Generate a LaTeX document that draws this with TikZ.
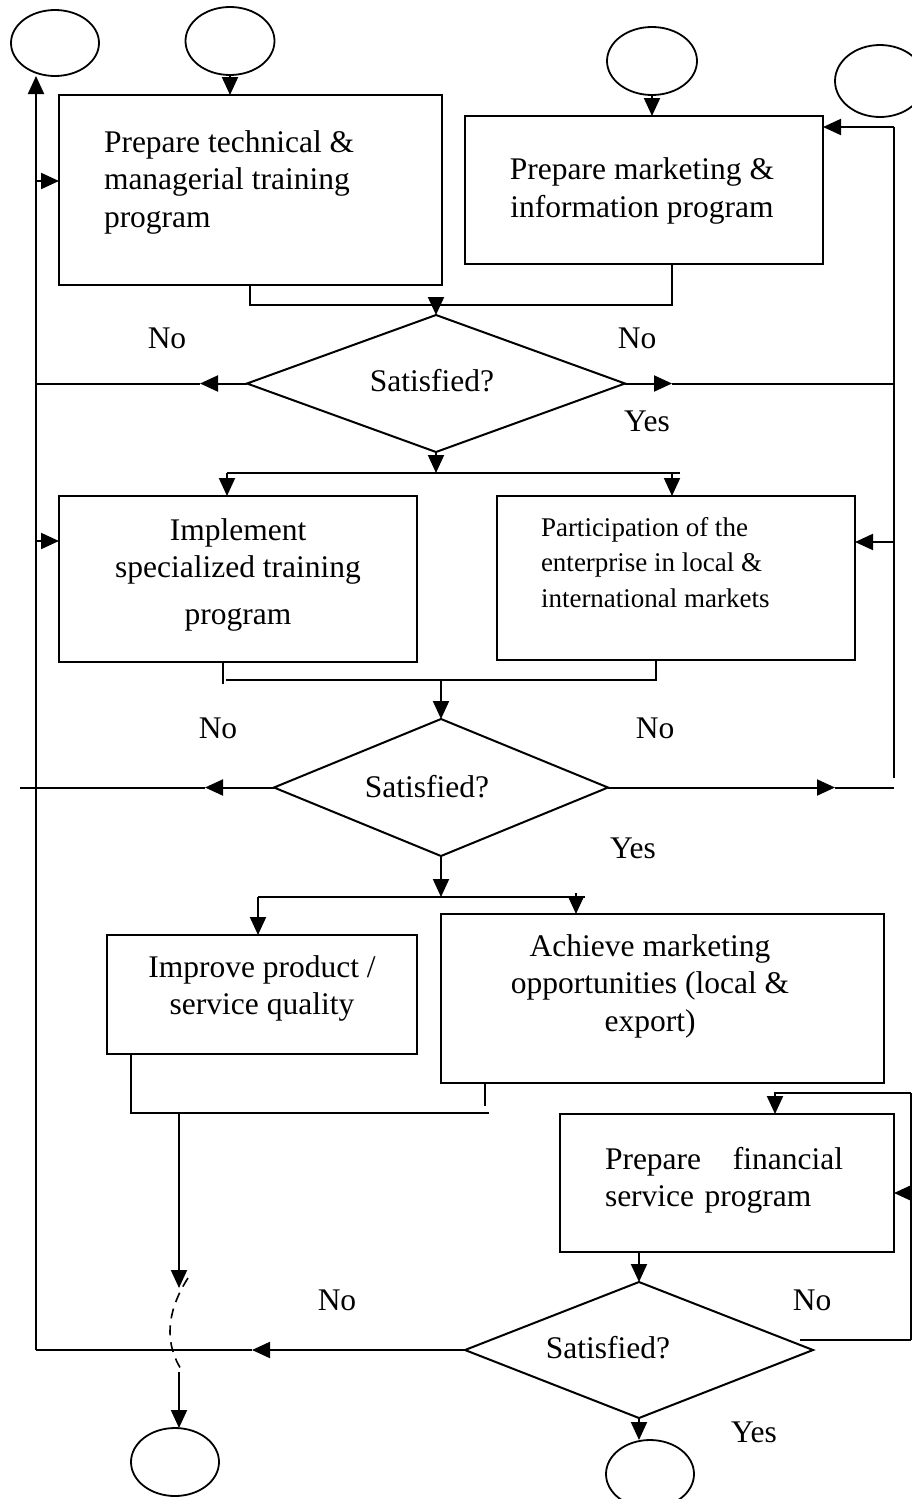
\documentclass[tikz,border=0pt]{standalone}
\usepackage{fontspec}
\setmainfont{Liberation Serif}
\usetikzlibrary{shapes.geometric,arrows.meta}
\begin{document}
\begin{tikzpicture}[x=1pt,y=-1pt,
  every node/.style={inner sep=0pt,outer sep=0pt},
  line/.style={line width=2pt},
  arr/.style={line width=2pt,-{Triangle[length=18pt,width=16pt]}},
  box/.style={draw,line width=2pt,rectangle},
  term/.style={draw,line width=1.8pt,ellipse},
  test/.style={draw,line width=2pt,diamond},
  txt/.style={font=\fontsize{31.5}{37.5}\selectfont},
  small/.style={font=\fontsize{27}{35.5}\selectfont}]
\useasboundingbox (0,0) rectangle (912,1499);

% terminals
\node[term,minimum width=88pt,minimum height=66pt] (c1) at (55,43) {};
\node[term,minimum width=89pt,minimum height=68pt] (c2) at (230,41) {};
\node[term,minimum width=90pt,minimum height=68pt] (c3) at (652,61) {};
\node[term,minimum width=90pt,minimum height=72pt] (c4) at (880,81) {};
\node[term,minimum width=88pt,minimum height=68pt] (c5) at (175,1462) {};
\node[term,minimum width=88pt,minimum height=68pt] (c6) at (650,1474) {};

% process boxes
\node[box,minimum width=383pt,minimum height=190pt] (b1) at (250.5,190) {};
\node[box,minimum width=358pt,minimum height=148pt] (b2) at (644,190) {};
\node[box,minimum width=358pt,minimum height=166pt] (b3) at (238,579) {};
\node[box,minimum width=358pt,minimum height=164pt] (b4) at (676,578) {};
\node[box,minimum width=310pt,minimum height=119pt] (b5) at (262,994.5) {};
\node[box,minimum width=443pt,minimum height=169pt] (b6) at (662.5,998.5) {};
\node[box,minimum width=334pt,minimum height=138pt] (b7) at (727,1183) {};

% box texts
\node[txt,anchor=west,align=left] (t1) at (104,182) {Prepare technical \&\\managerial training\\program};
\node[txt,align=center] (t2) at (642,191) {Prepare marketing \&\\information program};
\node[txt,align=center] (t3) at (238,574.5) {Implement\\specialized training\\[9pt]program};
\node[small,anchor=west,align=left] (t4) at (541,562.5) {Participation of the\\enterprise in local \&\\international markets};
\node[txt,align=center] (t5) at (262,988.5) {Improve product /\\service quality};
\node[txt,align=center] (t6) at (650,986) {Achieve marketing\\opportunities (local \&\\export)};
\node[txt,anchor=west,text width=238pt,align=left] (t7) at (605,1180.5) {Prepare\hfill financial\\service program};

% decisions
\node[test,minimum width=378pt,minimum height=137pt] (d1) at (436,383.5) {};
\node[test,minimum width=334pt,minimum height=137pt] (d2) at (441,787.5) {};
\node[test,minimum width=348pt,minimum height=136pt] (d3) at (639,1350) {};
\node[txt] (s1) at (432,381) {Satisfied?};
\node[txt] (s2) at (427,787) {Satisfied?};
\node[txt] (s3) at (608,1348) {Satisfied?};

% branch labels
\node[txt] (n1) at (167,338) {No};
\node[txt] (n2) at (637,338) {No};
\node[txt] (y1) at (647,421) {Yes};
\node[txt] (n3) at (218,728) {No};
\node[txt] (n4) at (655,728) {No};
\node[txt] (y2) at (633,848) {Yes};
\node[txt] (n5) at (337,1300) {No};
\node[txt] (n6) at (812,1300) {No};
\node[txt] (y3) at (754,1432) {Yes};

% return buses
\coordinate (lb) at (36,1350);
\coordinate (l1) at (36,181);
\coordinate (l2) at (36,541);
\coordinate (rb1) at (894,127);
\coordinate (rb2) at (894,778);
\coordinate (rb3) at (894,542);
\coordinate (rc1) at (911,1340);
\coordinate (rc2) at (911,1093);
\coordinate (rc3) at (912,1193);
\coordinate (b7in) at (775,1093);

\draw[arr] (lb) -- (lb |- c1.south);
\draw[arr] (l1) -- (l1 -| b1.west);
\draw[arr] (l2) -- (l2 -| b3.west);
\draw[line] (rb2) -- (rb1);
\draw[arr] (rb1) -- (rb1 -| b2.east);
\draw[arr] (rb3) -- (rb3 -| b4.east);

% entries at the top
\draw[arr] (c2.south) -- (c2.south |- b1.north);
\draw[arr] (c3.south) -- (c3.south |- b2.north);

% first join and decision
\coordinate (j1l) at (250,305);
\coordinate (j1r) at (672,305);
\coordinate (j1) at (436,305);
\draw[line] (b1.south -| j1l) -- (j1l) -- (j1r) -- (b2.south -| j1r);
\draw[arr] (j1) -- (d1.north);
\draw[arr] (d1.west) -- ++(-47,0) coordinate (d1b);
\draw[line] (d1b) -- (d1b -| lb);
\draw[arr] (d1.east) -- ++(47,0) coordinate (d1a);
\draw[line] (d1a) -- (d1a -| rb1);

% first split
\coordinate (j2) at (436,473);
\coordinate (j2l) at (227,473);
\coordinate (j2r) at (672,473);
\coordinate (j2e) at (680,473);
\draw[arr] (d1.south) -- (j2);
\draw[line] (j2l) -- (j2e);
\draw[arr] (j2l) -- (j2l |- b3.north);
\draw[arr] (j2r) -- (j2r |- b4.north);

% second join and decision
\coordinate (m2a) at (223,684);
\coordinate (m2l) at (226,680);
\coordinate (m2r) at (656,680);
\draw[line] (b3.south -| m2a) -- (m2a);
\draw[line] (m2l) -- (m2r) -- (b4.south -| m2r);
\draw[arr] (d2.north |- m2l) -- (d2.north);
\draw[arr] (d2.west) -- ++(-69,0) coordinate (d2b);
\draw[line] (d2b) -- ++(-185,0);
\draw[arr] (d2.east) -- ++(227,0) coordinate (d2a);
\draw[line] (d2a) -- (d2a -| rb1);

% second split
\coordinate (s2l) at (258,897);
\coordinate (s2r) at (585,897);
\coordinate (s2b) at (576,893);
\draw[arr] (d2.south) -- (d2.south |- s2l);
\draw[line] (s2l) -- (s2r);
\draw[arr] (s2l) -- (s2l |- b5.north);
\draw[arr] (s2b) -- (s2b |- b6.north);

% third join, running down to the exit
\coordinate (m3a) at (131,1113);
\coordinate (m3b) at (489,1113);
\coordinate (m3c) at (485,1106);
\coordinate (m3d) at (179,1113);
\coordinate (m3e) at (179,1288);
\coordinate (cu1) at (188,1278);
\coordinate (cu2) at (183,1372);
\coordinate (cu3) at (179,1372);
\draw[line] (b5.south -| m3a) -- (m3a) -- (m3b);
\draw[line] (b6.south -| m3c) -- (m3c);
\draw[arr] (m3d) -- (m3e);
\draw[dashed,line width=1.6pt,dash pattern=on 10pt off 7pt] (cu1) .. controls (166,1312) and (164,1345) .. (cu2);
\draw[arr] (cu3) -- (cu3 |- c5.north);

% financial program and last decision
\draw[line] (rc1) -- (rc2);
\draw[arr] (rc2) -- (b7in) -- (b7in |- b7.north);
\draw[arr] (rc3) -- (rc3 -| b7.east);
\draw[arr] (b7.south -| d3.north) -- (d3.north);
\draw[line] ([shift={(-13pt,10pt)}]d3.east) -- (rc1);
\draw[arr] (d3.west) -- ++(-213,0) coordinate (d3b);
\draw[line] (d3b) -- (lb);
\draw[arr] (d3.south) -- (d3.south |- c6.north);
\end{tikzpicture}
\end{document}
